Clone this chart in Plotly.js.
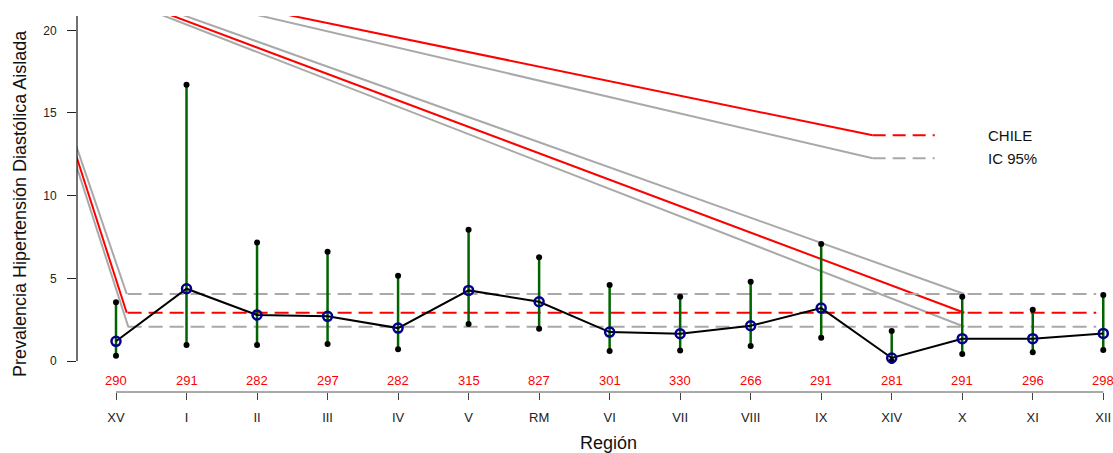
<!DOCTYPE html>
<html>
<head>
<meta charset="utf-8">
<script src="https://cdn.plot.ly/plotly-3.0.1.min.js"></script>
<style>html,body{margin:0;padding:0;background:#fff;}#chart{width:1113px;height:453px;}</style>
</head>
<body>
<div id="chart"></div>
<script>
// ---- data ----
const regions = ['XV','I','II','III','IV','V','RM','VI','VII','VIII','IX','XIV','X','XI','XII'];
const regionPos = [1,2,3,4,5,6,7,8,9,10,11,12,13,14,15];
const nSample = [290,291,282,297,282,315,827,301,330,266,291,281,291,296,298];
const prevalence = [1.19,4.37,2.78,2.70,1.99,4.27,3.58,1.75,1.65,2.13,3.20,0.18,1.35,1.35,1.67];
const ciUpper = [3.56,16.71,7.16,6.61,5.16,7.94,6.27,4.59,3.89,4.80,7.08,1.81,3.89,3.10,3.99];
const ciLower = [0.32,0.97,0.97,1.03,0.71,2.24,1.95,0.60,0.64,0.91,1.41,0.00,0.42,0.53,0.67];
const chileValue = 2.92;
const chileLow = 2.07;
const chileHigh = 4.05;
const chileSpan = [1.165, 14.9];
// solid reference segments (partly outside the visible window in the original)
const redSegX = [[0.206,1.152],[-1.708,13.03],[0.773,11.73]];
const redSegY = [[15.45,chileValue],[26.49,chileValue],[23.27,13.65]];
const graySegX = [[0.206,1.152],[0.206,1.174],[-1.708,13.03],[-1.708,13.03],[0.773,11.73]];
const graySegY = [[15.89,chileHigh],[14.87,chileLow],[26.49,chileHigh],[26.49,chileLow],[23.14,12.26]];
// legend
const legendLabels = ['CHILE','IC 95%'];
const legendY = [13.65,12.26];
const legendSpan = [11.73,12.61];
const yTicks = [0,5,10,15,20];

const RED = '#FF0000', GRAY = '#A9A9A9', GREEN = '#006400', NAVY = '#00008B';
const FONT = 'Liberation Sans, Arial, Helvetica, sans-serif';

const traces = [];
function seg(xs, ys, color, dash, width){
  traces.push({x: xs, y: ys, mode:'lines', type:'scatter', hoverinfo:'skip',
    line:{color: color, width: width||2, dash: dash||'solid'}, showlegend:false, cliponaxis:true});
}
// gray solid segments
graySegX.forEach((xs,i)=>seg(xs, graySegY[i], GRAY));
// red solid segments
redSegX.forEach((xs,i)=>seg(xs, redSegY[i], RED));
// dashed reference lines
seg(chileSpan, [chileHigh, chileHigh], GRAY, '14px,7px');
seg(chileSpan, [chileLow, chileLow], GRAY, '14px,7px');
seg(chileSpan, [chileValue, chileValue], RED, '14px,7px');
// legend dashes
seg(legendSpan, [legendY[0], legendY[0]], RED, '13px,7px');
seg(legendSpan, [legendY[1], legendY[1]], GRAY, '13px,7px');

// error bars
const ebX = [], ebY = [];
regionPos.forEach((p,i)=>{ ebX.push(p,p,null); ebY.push(ciLower[i], ciUpper[i], null); });
traces.push({x: ebX, y: ebY, mode:'lines', type:'scatter', hoverinfo:'skip',
  line:{color: GREEN, width: 2.5}, showlegend:false});
// CI end points
traces.push({x: regionPos.concat(regionPos), y: ciLower.concat(ciUpper), mode:'markers', type:'scatter',
  marker:{color:'#000', size:6, symbol:'circle'}, showlegend:false, cliponaxis:false});
// prevalence line
traces.push({x: regionPos, y: prevalence, mode:'lines', type:'scatter',
  line:{color:'#000', width:2}, showlegend:false});
traces.push({x: regionPos, y: prevalence, mode:'markers', type:'scatter',
  marker:{symbol:'circle-open', size:9, color: NAVY, line:{width:2.5, color: NAVY}}, showlegend:false, cliponaxis:false});

const annotations = [];
regionPos.forEach((p,i)=>{
  annotations.push({x:p, y:-1.15, xref:'x', yref:'y', text:String(nSample[i]), showarrow:false,
    font:{family:FONT, size:13, color:RED}, xanchor:'center', yanchor:'middle'});
});
legendLabels.forEach((t,i)=>{
  annotations.push({x:13.33, y:legendY[i], xref:'x', yref:'y', text:t, showarrow:false,
    font:{family:FONT, size:15, color:'#111'}, xanchor:'left', yanchor:'middle'});
});
annotations.push({x:(20-77)/1036, xref:'paper', y:0.5, yref:'paper', text:'Prevalencia Hipertensión Diastólica Aislada',
  showarrow:false, textangle:-90, font:{family:FONT, size:18, color:'#111'}, xanchor:'center', yanchor:'middle'});
annotations.push({x:(608-77)/1036, xref:'paper', y:-(443-392)/376, yref:'paper', text:'Región', showarrow:false,
  font:{family:FONT, size:18, color:'#111'}, xanchor:'center', yanchor:'middle'});

const layout = {
  width:1113, height:453,
  margin:{l:77, r:0, t:16, b:61, pad:0},
  paper_bgcolor:'#fff', plot_bgcolor:'#fff',
  showlegend:false,
  font:{family:FONT, color:'#222'},
  xaxis:{range:[0.447, 15.138], tickvals: regionPos, ticktext: regions, ticks:'outside', ticklen:7,
    tickcolor:'#444', tickwidth:1, showgrid:false, zeroline:false, showline:false,
    tickfont:{family:FONT, size:13, color:'#222'}, ticklabelstandoff:6, fixedrange:true},
  yaxis:{range:[-1.875, 20.865], tickvals: yTicks, ticks:'outside', ticklen:9, tickcolor:'#222', tickwidth:1,
    showgrid:false, zeroline:false, showline:false, tickfont:{family:FONT, size:12, color:'#222'},
    ticklabelstandoff:8, fixedrange:true},
  shapes:[
    {type:'line', xref:'x', yref:'paper', x0:1, x1:15, y0:0, y1:0, line:{color:'#555', width:1}},
    {type:'line', xref:'paper', yref:'y', x0:0, x1:0, y0:0, y1:20.865, line:{color:'#111', width:1.2}}
  ],
  annotations: annotations
};
Plotly.newPlot('chart', traces, layout, {staticPlot:true, displayModeBar:false});
</script>
</body>
</html>
